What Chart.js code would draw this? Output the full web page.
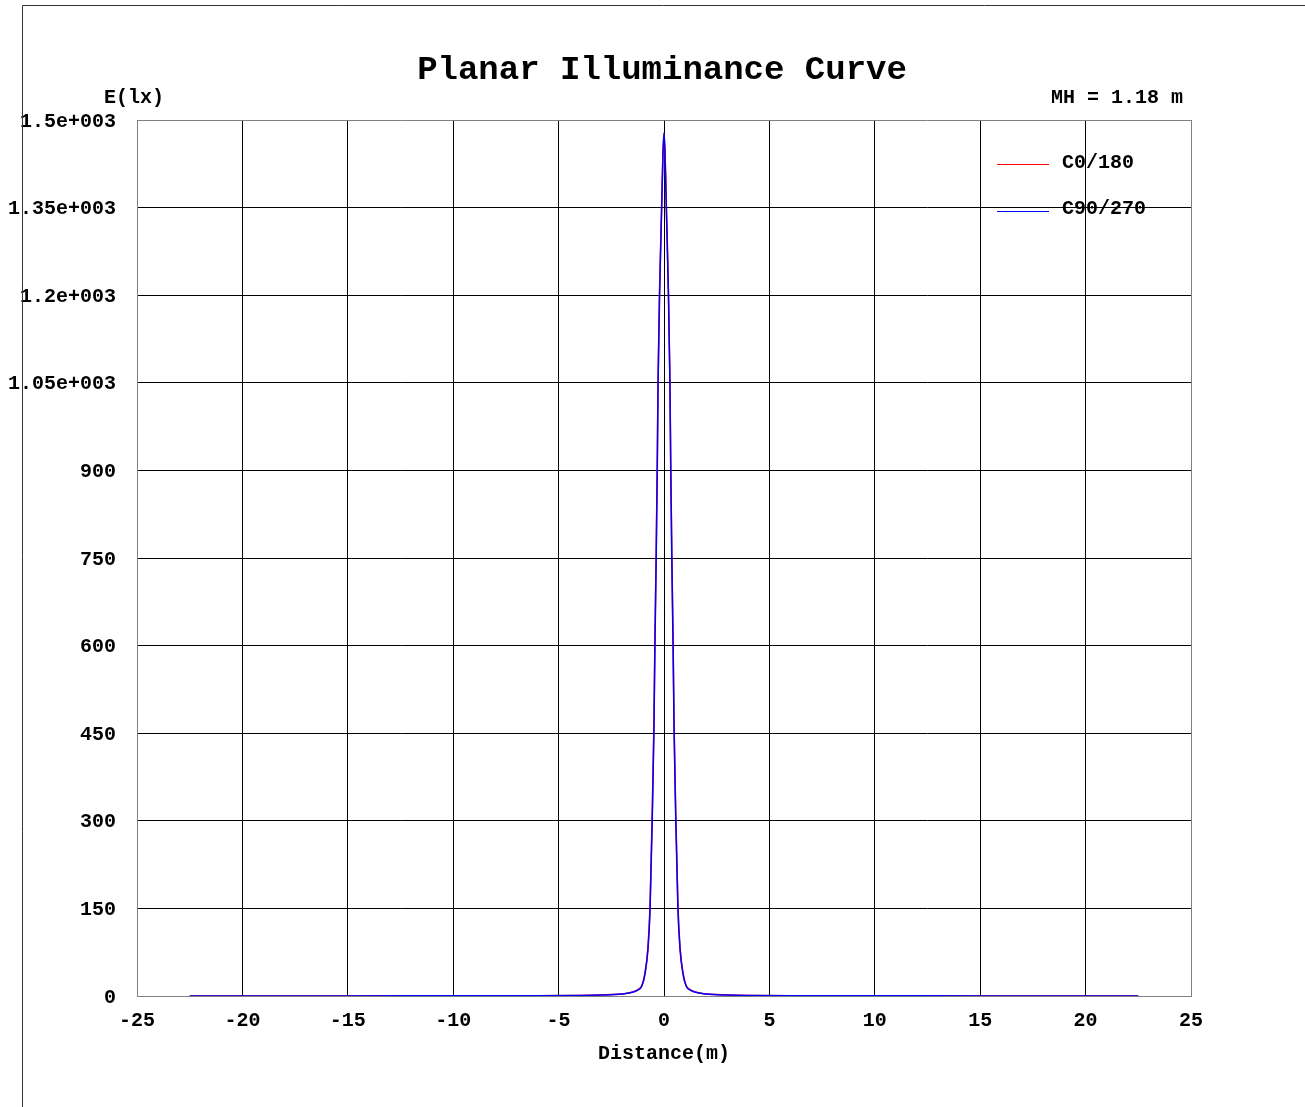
<!DOCTYPE html>
<html>
<head>
<meta charset="utf-8">
<title>Planar Illuminance Curve</title>
<script src="https://cdn.jsdelivr.net/npm/chart.js@4.4.1/dist/chart.umd.min.js"></script>
<style>
    html, body { margin: 0; padding: 0; background: #ffffff; }
    #chart { display: block; }
</style>
</head>
<body>
<canvas id="chart" width="1305" height="1107"></canvas>
<script>
// Datos (distancia en m, iluminancia en lx)
const distances = [
    -22.5, -20, -15, -10, -6, -4, -3, -2.5, -2, -1.75, -1.5, -1.25, -1.05,
    -0.9, -0.76, -0.66, -0.56, -0.48, -0.43, -0.37, -0.32, -0.28, -0.21, -0.11, -0.05,
    0,
    0.05, 0.11, 0.21, 0.28, 0.32, 0.37, 0.43, 0.48, 0.56, 0.66, 0.76, 0.9,
    1.05, 1.25, 1.5, 1.75, 2, 2.5, 3, 4, 6, 10, 15, 20, 22.5
];
const illuminanceC0 = [
    0.1, 0.1, 0.2, 0.3, 0.5, 1.0, 1.7, 2.4, 3.4, 4.8, 6.8, 10.5, 18,
    40, 84, 156, 310, 462, 612, 762, 912, 1060, 1208, 1355, 1442,
    1476,
    1442, 1355, 1208, 1060, 912, 762, 612, 462, 310, 156, 84, 40,
    18, 10.5, 6.8, 4.8, 3.4, 2.4, 1.7, 1.0, 0.5, 0.3, 0.2, 0.1, 0.1
];
const illuminanceC90 = [
    0.1, 0.1, 0.2, 0.3, 0.5, 1.0, 1.6, 2.3, 3.3, 4.6, 6.5, 10, 17,
    38, 80, 150, 300, 450, 600, 750, 900, 1050, 1200, 1350, 1440,
    1478,
    1440, 1350, 1200, 1050, 900, 750, 600, 450, 300, 150, 80, 38,
    17, 10, 6.5, 4.6, 3.3, 2.3, 1.6, 1.0, 0.5, 0.3, 0.2, 0.1, 0.1
];
const seriesLabels = ['C0/180', 'C90/270'];
const xTickRange = { min: -25, max: 25, step: 5 };
const yTickRange = { min: 0, max: 1500, step: 150 };
const mountingHeight = 'MH = 1.18 m';

const FONT_FAMILY = '"Liberation Mono", "Courier New", monospace';

/**
 * Formato de las etiquetas del eje Y (estilo 1.5e+003)
 */
function formatLux(value) {
    if (value >= 1000) {
        return (value / 1000) + 'e+003';
    }
    return String(value);
}

/**
 * Devuelve el color de la rejilla: gris en los bordes, negro dentro
 */
function gridColor(range) {
    return function(context) {
        if (!context.tick) return '#000000';
        const v = context.tick.value;
        return (v === range.min || v === range.max) ? '#808080' : '#000000';
    };
}

// Plugin para título, marco exterior, textos y leyenda dentro del área
const decorationsPlugin = {
    id: 'decorations',
    afterDraw(chart) {
        const ctx = chart.ctx;
        ctx.save();

        // Marco exterior (arriba e izquierda)
        ctx.strokeStyle = '#333333';
        ctx.lineWidth = 1;
        ctx.beginPath();
        ctx.moveTo(22.5, 1107);
        ctx.lineTo(22.5, 5.5);
        ctx.lineTo(1305, 5.5);
        ctx.stroke();

        ctx.fillStyle = '#000000';
        ctx.textBaseline = 'middle';

        // Título
        ctx.font = 'bold 34px ' + FONT_FAMILY;
        ctx.textAlign = 'center';
        ctx.fillText('Planar Illuminance Curve', 662, 70);

        // Unidad del eje Y y altura de montaje
        ctx.font = 'bold 20px ' + FONT_FAMILY;
        ctx.fillText('E(lx)', 134, 98);
        ctx.textAlign = 'right';
        ctx.fillText(mountingHeight, 1183, 98);

        // Leyenda (en el orden de los datos)
        ctx.textAlign = 'left';
        chart.data.datasets.forEach(function(ds, i) {
            const lineY = 164.5 + i * 47;
            ctx.strokeStyle = ds.borderColor;
            ctx.lineWidth = 1;
            ctx.beginPath();
            ctx.moveTo(997, lineY);
            ctx.lineTo(1049, lineY);
            ctx.stroke();
            ctx.fillStyle = '#000000';
            ctx.fillText(ds.label, 1062, 163 + i * 46);
        });

        ctx.restore();
    }
};

const tickFont = { family: FONT_FAMILY, size: 20, weight: 'bold' };

new Chart(document.getElementById('chart'), {
    type: 'line',
    data: {
        datasets: [
            {
                label: seriesLabels[0],
                data: distances.map((x, i) => ({ x: x, y: illuminanceC0[i] })),
                borderColor: '#ff0000',
                borderWidth: 1.5,
                pointRadius: 0,
                fill: false,
                cubicInterpolationMode: 'monotone',
                order: 1   // se dibuja debajo
            },
            {
                label: seriesLabels[1],
                data: distances.map((x, i) => ({ x: x, y: illuminanceC90[i] })),
                borderColor: '#0000ff',
                borderWidth: 1.5,
                pointRadius: 0,
                fill: false,
                cubicInterpolationMode: 'monotone',
                order: 0   // encima de C0/180
            }
        ]
    },
    options: {
        responsive: false,
        animation: false,
        devicePixelRatio: 1,
        layout: {
            padding: { left: 0, top: 120, right: 114, bottom: 0 }
        },
        plugins: {
            legend: { display: false },
            title: { display: false },
            tooltip: { enabled: false }
        },
        scales: {
            x: {
                type: 'linear',
                min: xTickRange.min,
                max: xTickRange.max,
                ticks: {
                    stepSize: xTickRange.step,
                    color: '#000000',
                    font: tickFont,
                    padding: 13,
                    maxRotation: 0
                },
                grid: {
                    color: gridColor(xTickRange),
                    lineWidth: 1,
                    drawTicks: false
                },
                border: { color: '#808080', width: 1 },
                title: {
                    display: true,
                    text: 'Distance(m)',
                    color: '#000000',
                    font: tickFont,
                    padding: { top: 0, bottom: 41 }
                },
                afterFit(scale) {
                    scale.height = 111;
                }
            },
            y: {
                type: 'linear',
                min: yTickRange.min,
                max: yTickRange.max,
                ticks: {
                    stepSize: yTickRange.step,
                    color: '#000000',
                    font: tickFont,
                    padding: 21,
                    labelOffset: 1.5,
                    callback: formatLux
                },
                grid: {
                    color: gridColor(yTickRange),
                    lineWidth: 1,
                    drawTicks: false
                },
                border: { color: '#808080', width: 1 },
                afterFit(scale) {
                    scale.width = 137;
                }
            }
        }
    },
    plugins: [decorationsPlugin]
});
</script>
</body>
</html>
